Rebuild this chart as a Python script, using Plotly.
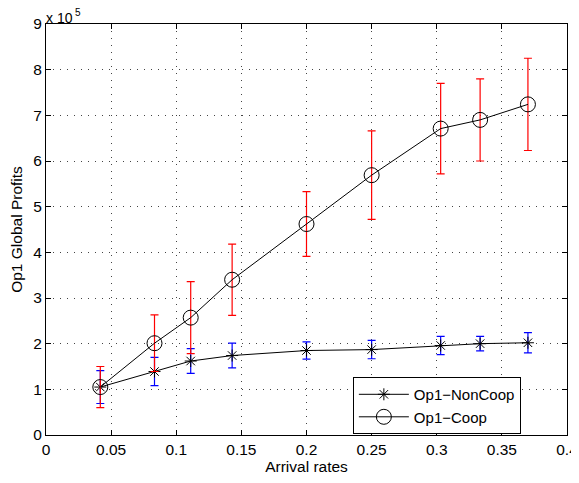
import plotly.graph_objects as go

# Arrival rates
arrival = [0.0417, 0.0833, 0.1111, 0.1429, 0.2, 0.25, 0.303, 0.3333, 0.37]

# Op1 global profits (units of 1e5)
noncoop = [1.05, 1.39, 1.62, 1.74, 1.85, 1.87, 1.96, 2.00, 2.02]
noncoop_err = [0.36, 0.31, 0.27, 0.27, 0.19, 0.20, 0.20, 0.16, 0.22]

coop = [1.05, 2.01, 2.57, 3.40, 4.62, 5.69, 6.71, 6.90, 7.24]
coop_err = [0.45, 0.62, 0.79, 0.78, 0.71, 0.97, 0.99, 0.90, 1.01]

FONT = "Liberation Sans, Arial, Helvetica, sans-serif"
FS = 15.5

fig = go.Figure()
fig.add_trace(go.Scatter(
    x=arrival, y=noncoop, name="Op1\u2212NonCoop", mode="lines+markers",
    line=dict(color="black", width=1),
    marker=dict(symbol="asterisk-open", size=10, color="black", line=dict(color="black", width=1)),
    error_y=dict(type="data", array=noncoop_err, visible=True, color="blue", thickness=1.2, width=4),
))
fig.add_trace(go.Scatter(
    x=arrival, y=coop, name="Op1\u2212Coop", mode="lines+markers",
    line=dict(color="black", width=1),
    marker=dict(symbol="circle-open", size=15, color="black", line=dict(color="black", width=1)),
    error_y=dict(type="data", array=coop_err, visible=True, color="red", thickness=1.2, width=4),
))

axis_common = dict(
    showline=True, linecolor="black", linewidth=1, mirror="allticks",
    ticks="inside", ticklen=5, tickcolor="black", tickwidth=1,
    showgrid=True, gridcolor="#444444", gridwidth=1, griddash="1px,6px",
    zeroline=False, automargin=False,
    tickfont=dict(family=FONT, size=FS, color="black"),
    title_font=dict(family=FONT, size=FS, color="black"),
)

fig.update_xaxes(range=[0, 0.4], dtick=0.05, tick0=0, title_text="Arrival rates",
                 title_standoff=3, **axis_common)
fig.update_yaxes(range=[0, 9], dtick=1, tick0=0, title_text="Op1 Global Profits",
                 title_standoff=13, **axis_common)

# exponent label "x 10^5" above the y axis
fig.add_annotation(x=0, y=1, xref="paper", yref="paper", xanchor="left", yanchor="bottom",
                   text="x 10", showarrow=False, yshift=-3, xshift=-1, borderpad=0,
                   font=dict(family=FONT, size=14, color="black"))
fig.add_annotation(x=0, y=1, xref="paper", yref="paper", xanchor="left", yanchor="bottom",
                   text="5", showarrow=False, yshift=5, xshift=28, borderpad=0,
                   font=dict(family=FONT, size=10, color="black"))

# page body has an 8px default margin, so the figure is sized/offset to compensate
fig.update_layout(
    width=571, height=475,
    margin=dict(l=38, r=12, t=16, b=48),
    plot_bgcolor="white", paper_bgcolor="white",
    font=dict(family=FONT, size=FS, color="black"),
    legend=dict(x=0.589, y=0.141, xanchor="left", yanchor="top",
                bordercolor="black", borderwidth=1, bgcolor="white",
                itemwidth=50,
                font=dict(family=FONT, size=15, color="black"), tracegroupgap=0),
    showlegend=True,
)

fig.write_html("out.html")
